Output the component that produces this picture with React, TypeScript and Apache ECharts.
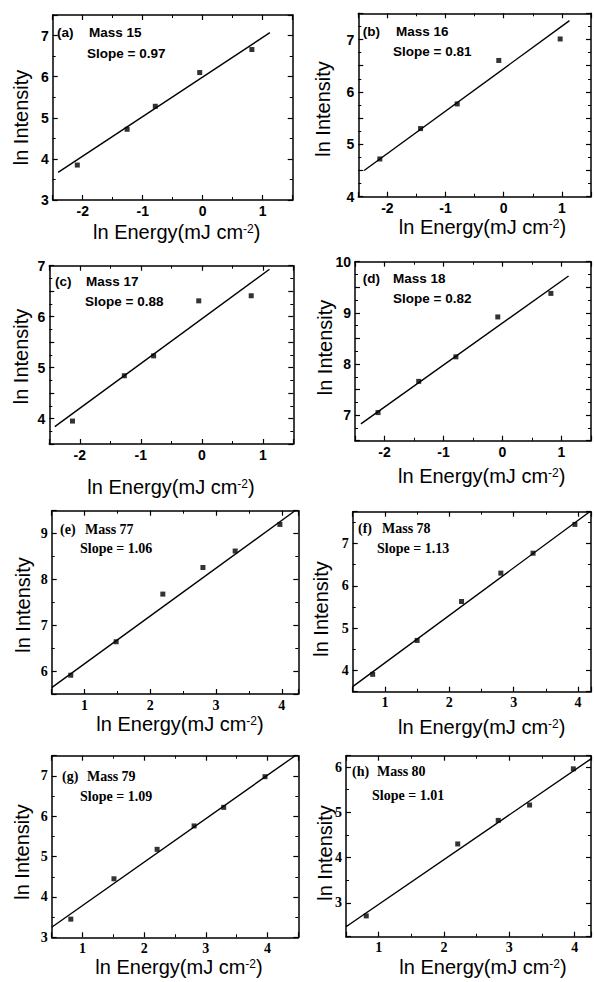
import React, { useEffect, useRef } from "react";
import * as echarts from "echarts";

// ---------- data ----------
const panelTags = ["(a)", "(b)", "(c)", "(d)", "(e)", "(f)", "(g)", "(h)"];
const massLabels = ["Mass 15", "Mass 16", "Mass 17", "Mass 18", "Mass 77", "Mass 78", "Mass 79", "Mass 80"];
const slopeLabels = [
  "Slope = 0.97", "Slope = 0.81", "Slope = 0.88", "Slope = 0.82",
  "Slope = 1.06", "Slope = 1.13", "Slope = 1.09", "Slope = 1.01",
];

const energyA = [-2.09, -1.26, -0.79, -0.05, 0.82];
const intensityA = [3.85, 4.72, 5.28, 6.1, 6.66];
const energyB = [-2.13, -1.43, -0.8, -0.085, 0.97];
const intensityB = [4.72, 5.3, 5.77, 6.6, 7.01];
const energyC = [-2.12, -1.27, -0.79, -0.05, 0.81];
const intensityC = [3.95, 4.84, 5.23, 6.31, 6.41];
const energyD = [-2.11, -1.42, -0.79, -0.08, 0.82];
const intensityD = [7.05, 7.66, 8.14, 8.92, 9.38];
const energyE = [0.79, 1.48, 2.19, 2.8, 3.29, 3.97];
const intensityE = [5.91, 6.64, 7.68, 8.26, 8.62, 9.2];
const energyF = [0.81, 1.5, 2.19, 2.8, 3.3, 3.95];
const intensityF = [3.91, 4.71, 5.63, 6.3, 6.77, 7.45];
const energyG = [0.81, 1.51, 2.21, 2.81, 3.29, 3.96];
const intensityG = [3.45, 4.45, 5.18, 5.76, 6.22, 6.98];
const energyH = [0.81, 2.21, 2.83, 3.31, 3.98];
const intensityH = [2.71, 4.3, 4.82, 5.16, 5.96];

// fitted lines: end points
const fitXA = [-2.41, 1.12]; const fitYA = [3.67, 7.07];
const fitXB = [-2.4, 1.13]; const fitYB = [4.5, 7.36];
const fitXC = [-2.41, 1.11]; const fitYC = [3.84, 6.93];
const fitXD = [-2.4, 1.12]; const fitYD = [6.83, 9.72];
const fitXE = [0.5, 4.2]; const fitYE = [5.64, 9.5];
const fitXF = [0.5, 4.18]; const fitYF = [3.62, 7.75];
const fitXG = [0.5, 4.45]; const fitYG = [3.25, 7.5];
const fitXH = [0.5, 4.25]; const fitYH = [2.47, 6.18];

// axis ranges
const xRanges = [
  [-2.5, 1.5], [-2.5, 1.5], [-2.5, 1.5], [-2.5, 1.5],
  [0.5, 4.25], [0.5, 4.2], [0.5, 4.5], [0.5, 4.25],
];
const yRanges = [
  [3, 7.5], [4, 7.5], [3.5, 7], [6.5, 10],
  [5.5, 9.5], [3.5, 7.75], [3, 7.5], [2.25, 6.25],
];

const energies = [energyA, energyB, energyC, energyD, energyE, energyF, energyG, energyH];
const intensities = [intensityA, intensityB, intensityC, intensityD, intensityE, intensityF, intensityG, intensityH];
const fitXs = [fitXA, fitXB, fitXC, fitXD, fitXE, fitXF, fitXG, fitXH];
const fitYs = [fitYA, fitYB, fitYC, fitYD, fitYE, fitYF, fitYG, fitYH];

const xTitle = "ln Energy(mJ cm";
const yTitle = "ln Intensity";

// ---------- layout ----------
const grids = [
  { left: 52.7, top: 15, width: 240, height: 185 },
  { left: 358.3, top: 13.3, width: 234.7, height: 183.4 },
  { left: 49.3, top: 265.7, width: 244, height: 178.3 },
  { left: 355, top: 261.7, width: 238, height: 179 },
  { left: 51.7, top: 510.7, width: 246.6, height: 183.3 },
  { left: 352.7, top: 511.7, width: 240, height: 180 },
  { left: 51.7, top: 755.7, width: 246.6, height: 181.6 },
  { left: 346, top: 755.7, width: 245.7, height: 181 },
];
const xTitlePos = [
  [176.7, 232], [482.5, 227], [171, 487], [481.7, 476],
  [180, 724], [481.7, 727], [179, 967], [483, 967],
];
const yTitlePos = [
  [21, 117.5], [323, 109], [21, 356.5], [325, 347.5],
  [22.5, 605], [321, 609], [21.5, 852], [325, 853],
];
const tagPos = [
  [57, 32], [362.7, 31.7], [55, 281.7], [362.7, 278.3],
  [60, 529.3], [358, 528.3], [62, 776.7], [352, 771.7],
];
const massPos = [
  [89, 32], [396, 31.7], [86, 281.7], [393, 278.3],
  [85, 529.3], [382, 528.3], [87, 776.7], [377, 771.7],
];
const slopePos = [
  [87, 53], [393, 51.7], [85, 301.7], [393, 298.3],
  [80, 548.3], [377, 548.3], [80, 796.7], [372, 795],
];

const SANS = "'Liberation Sans', Arial, Helvetica, sans-serif";
const SERIF = "'Liberation Serif', 'Times New Roman', Times, serif";

const intLabel = (v: number) =>
  Math.abs(v - Math.round(v)) < 1e-6 ? String(Math.round(v)) : "";

function axisCommon(i: number, range: number[], showLabel: boolean) {
  const serifPanel = i >= 4;
  return {
    type: "value",
    gridIndex: i,
    min: range[0],
    max: range[1],
    axisLine: { onZero: false, lineStyle: { color: "#000", width: 1.5 } },
    axisTick: { show: true, inside: true, length: 5, lineStyle: { color: "#000", width: 1.2 } },
    minorTick: { show: true, splitNumber: 2, length: 3, lineStyle: { color: "#000", width: 1 } },
    splitLine: { show: false },
    minorSplitLine: { show: false },
    axisLabel: {
      show: showLabel,
      margin: 4,
      color: "#000",
      fontFamily: serifPanel ? SERIF : SANS,
      fontWeight: "bold",
      fontSize: 14,
      lineHeight: 14,
      formatter: intLabel,
    },
  };
}

export default function App() {
  const ref = useRef<HTMLDivElement>(null);
  useEffect(() => {
    if (!ref.current) return;
    const chart = echarts.init(ref.current, undefined, { renderer: "svg" });

    const xAxis: any[] = [];
    const yAxis: any[] = [];
    const series: any[] = [];
    const graphic: any[] = [];

    for (let i = 0; i < 8; i++) {
      xAxis.push({ ...axisCommon(i, xRanges[i], true), position: "bottom" });
      xAxis.push({ ...axisCommon(i, xRanges[i], false), position: "top" });
      yAxis.push({ ...axisCommon(i, yRanges[i], true), position: "left" });
      yAxis.push({ ...axisCommon(i, yRanges[i], false), position: "right" });

      series.push({
        type: "line",
        xAxisIndex: 2 * i,
        yAxisIndex: 2 * i,
        data: fitXs[i].map((x, k) => [x, fitYs[i][k]]),
        showSymbol: false,
        lineStyle: { color: "#000", width: 1.4 },
        clip: true,
        z: 2,
      });
      series.push({
        type: "scatter",
        xAxisIndex: 2 * i,
        yAxisIndex: 2 * i,
        data: energies[i].map((x, k) => [x, intensities[i][k]]),
        symbol: "rect",
        symbolSize: 5,
        itemStyle: { color: "#000" },
        z: 3,
      });

      const serifPanel = i >= 4;
      const annFont = serifPanel ? SERIF : SANS;
      const annSize = serifPanel ? 14 : 13.5;
      const annStyle = {
        fontFamily: annFont,
        fontWeight: "bold",
        fontSize: annSize,
        fill: "#000",
        align: "left",
        verticalAlign: "middle",
      };
      graphic.push({ type: "text", x: tagPos[i][0], y: tagPos[i][1], style: { ...annStyle, text: panelTags[i] } });
      graphic.push({ type: "text", x: massPos[i][0], y: massPos[i][1], style: { ...annStyle, text: massLabels[i] } });
      graphic.push({ type: "text", x: slopePos[i][0], y: slopePos[i][1], style: { ...annStyle, text: slopeLabels[i] } });
      graphic.push({
        type: "text",
        x: xTitlePos[i][0],
        y: xTitlePos[i][1],
        style: {
          text: "{a|" + xTitle + "}{s|-2}{a|)}",
          rich: {
            a: { fontFamily: SANS, fontSize: 20, fill: "#000", lineHeight: 18 },
            s: { fontFamily: SANS, fontSize: 12, fill: "#000", verticalAlign: "top", lineHeight: 10 },
          },
          fontFamily: SANS,
          fontSize: 20,
          fill: "#000",
          align: "center",
          verticalAlign: "middle",
        },
      });
      graphic.push({
        type: "text",
        x: yTitlePos[i][0],
        y: yTitlePos[i][1],
        rotation: Math.PI / 2,
        style: {
          text: yTitle,
          fontFamily: SANS,
          fontSize: 20,
          lineHeight: 18,
          fill: "#000",
          align: "center",
          verticalAlign: "middle",
        },
      });
    }

    chart.setOption({
      animation: false,
      backgroundColor: "#fff",
      grid: grids.map((g) => ({ ...g, containLabel: false })),
      xAxis,
      yAxis,
      series,
      graphic,
    });
    return () => chart.dispose();
  }, []);

  return (
    <div
      ref={ref}
      style={{ position: "absolute", left: 0, top: 0, width: 594, height: 982, background: "#fff" }}
    />
  );
}
